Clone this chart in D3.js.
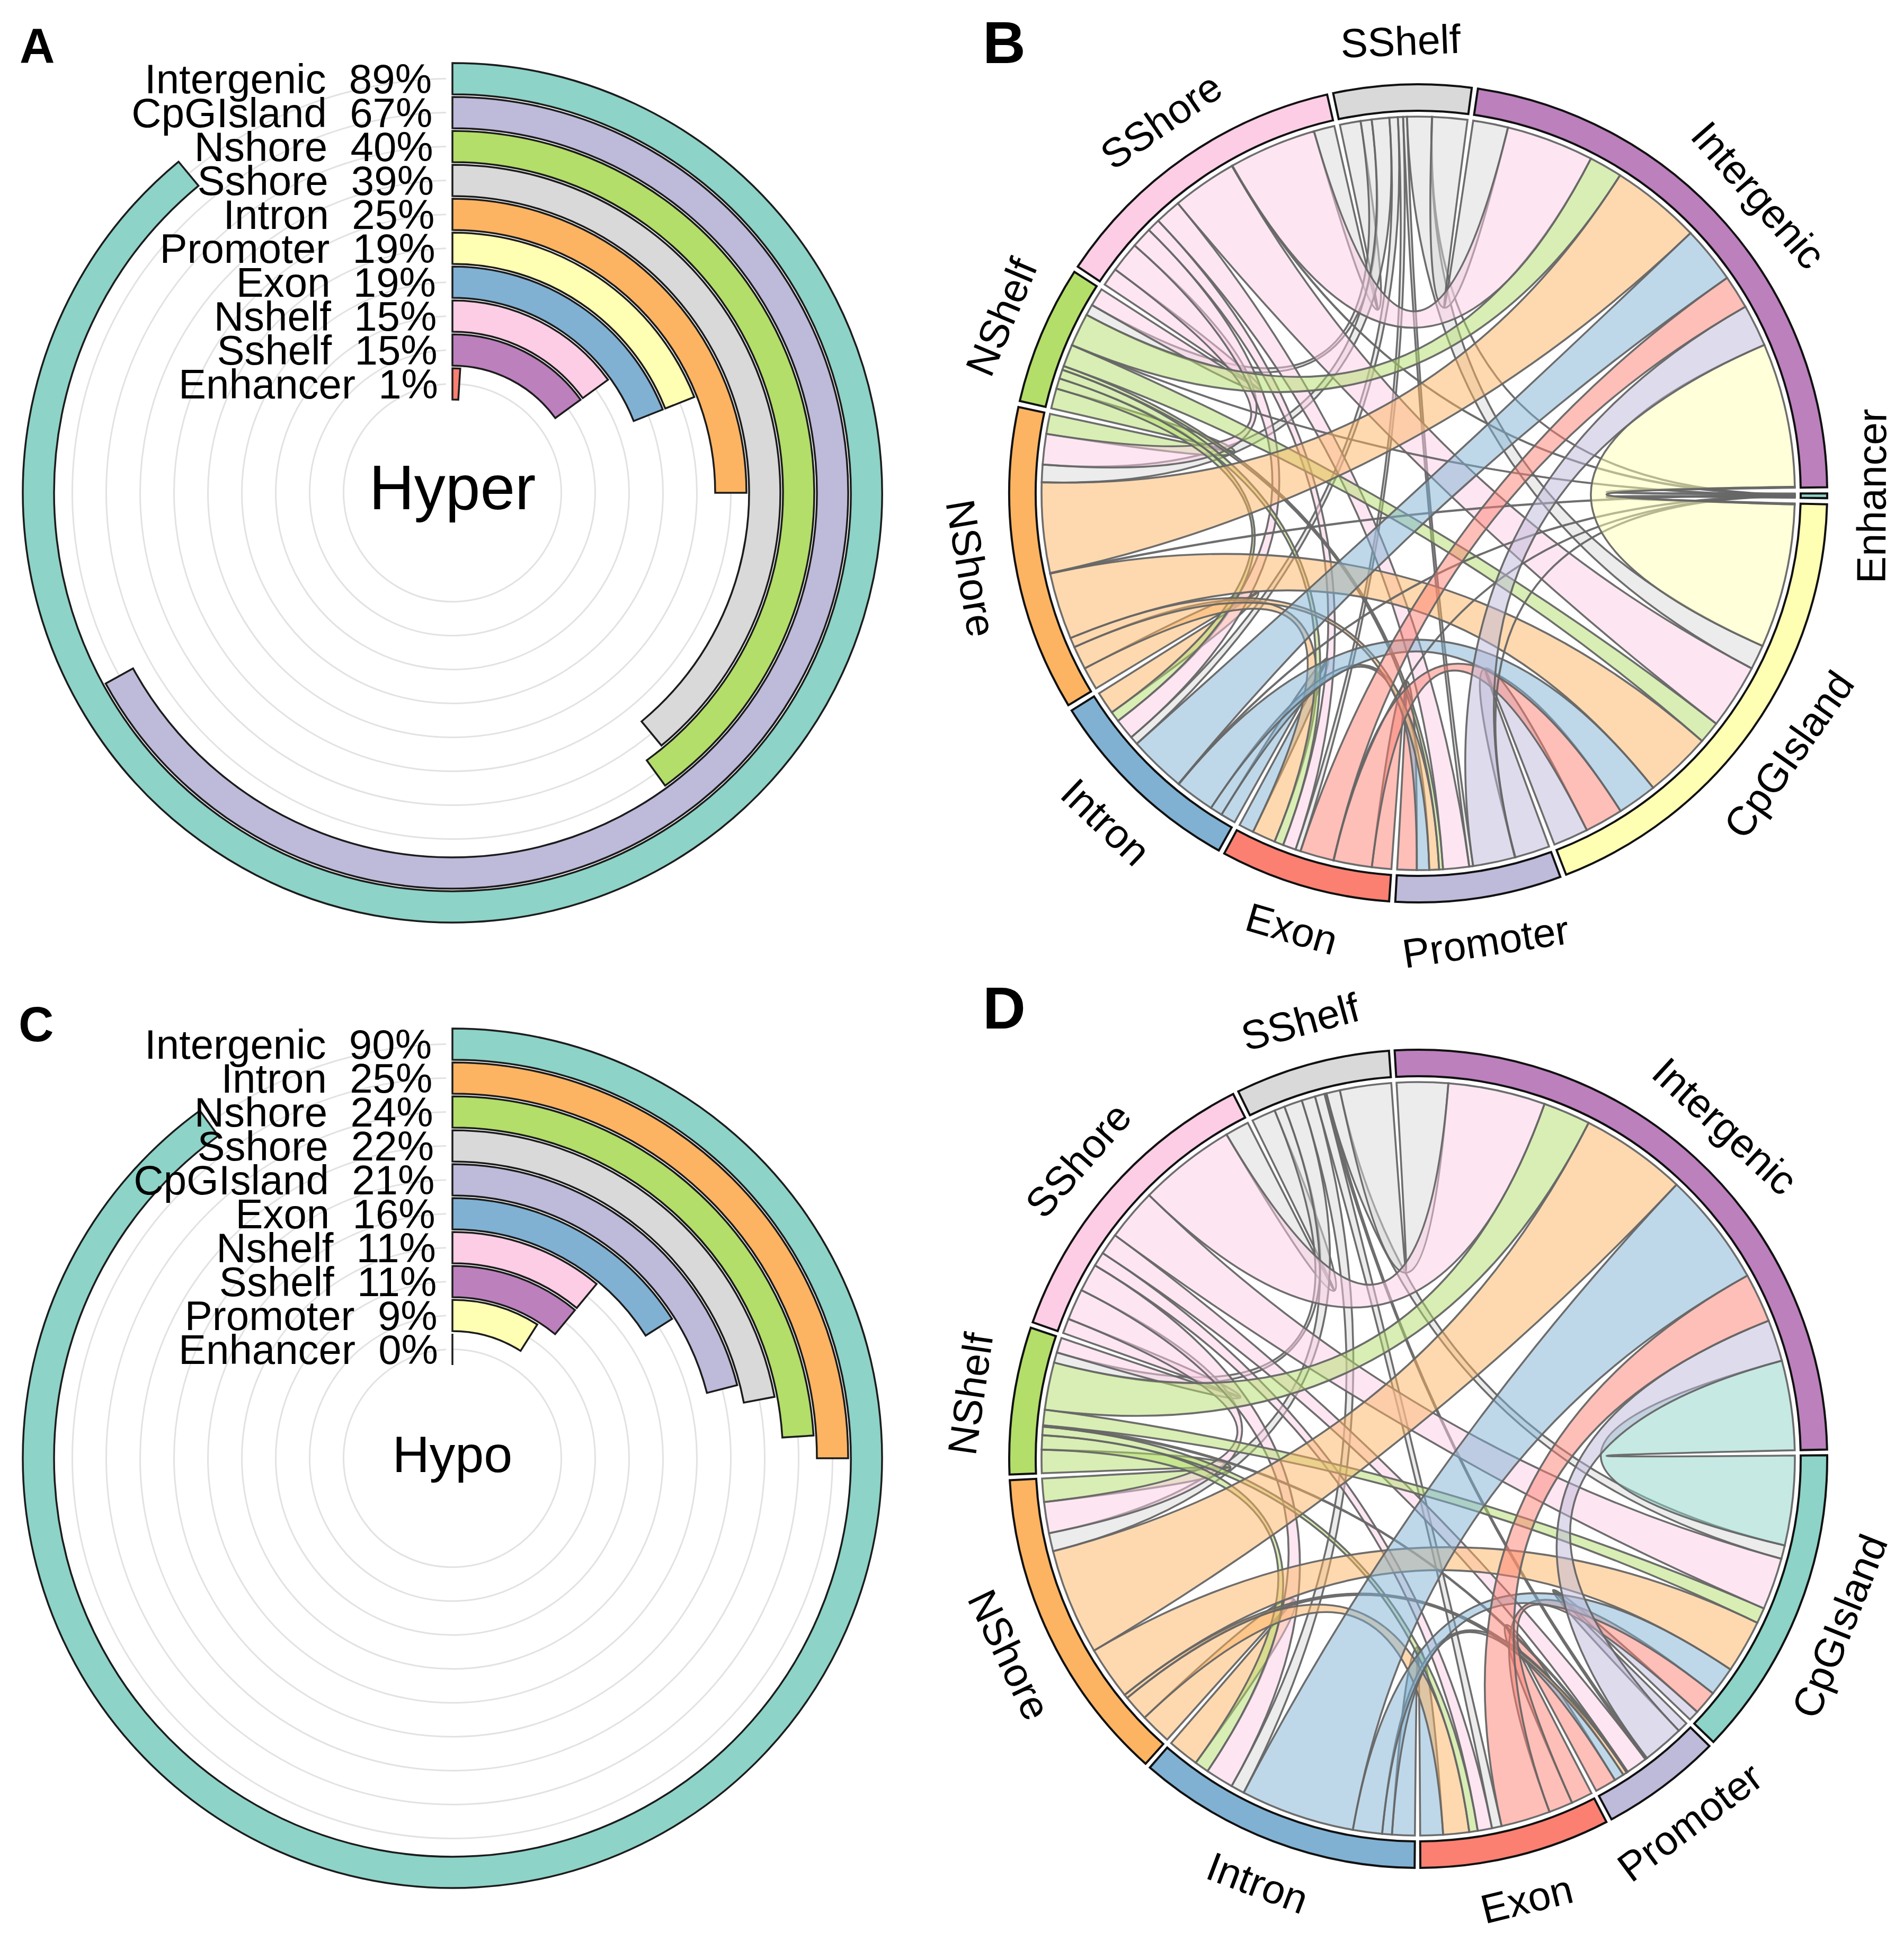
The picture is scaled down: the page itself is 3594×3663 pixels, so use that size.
<!DOCTYPE html>
<html>
<head>
<meta charset="utf-8">
<script src="https://cdn.jsdelivr.net/npm/d3@7"></script>
<style>
html,body{margin:0;padding:0;background:#fff}
svg{display:block}
text{font-family:"Liberation Sans",Arial,sans-serif;fill:#000}
</style>
</head>
<body>
<svg id="chart" width="3594" height="3663"></svg>
<script>
// ---------- radial bar panels ----------
const hyperNames  = ["Intergenic","CpGIsland","Nshore","Sshore","Intron","Promoter","Exon","Nshelf","Sshelf","Enhancer"];
const hyperValues = [89,67,40,39,25,19,19,15,15,1];
const hypoNames   = ["Intergenic","Intron","Nshore","Sshore","CpGIsland","Exon","Nshelf","Sshelf","Promoter","Enhancer"];
const hypoValues  = [90,25,24,22,21,16,11,11,9,0];
const barColors = {Intergenic:"#8DD3C7",CpGIsland:"#BEBADA",Nshore:"#B3DE69",Sshore:"#D9D9D9",Intron:"#FDB462",
                   Promoter:"#FFFFB3",Exon:"#80B1D3",Nshelf:"#FCCDE5",Sshelf:"#BC80BD",Enhancer:"#FB8072"};

// ---------- chord panels ----------
const sectorsB = ["SShelf","Intergenic","Enhancer","CpGIsland","Promoter","Exon","Intron","NShore","NShelf","SShore"];
const colorsB  = ["#D9D9D9","#BC80BD","#8DD3C7","#FFFFB3","#BEBADA","#FB8072","#80B1D3","#FDB462","#B3DE69","#FCCDE5"];
// upper triangle of the symmetric flow table, degrees of arc at each end
const flowsB = [
  [5.4,.03,3.8,.6,.8,1.3,2.7,1.7,3.2],
  [.15,22.2,6.5,5.2,8.8,13.9,5.1,13.5],
  [.15,.05,.03,.06,.08,.03,.08],
  [5.4,5.9,6.1,10.3,3.4,10],
  [3,1.9,1.5,.6,4],
  [2.3,3.6,1.4,2],
  [3.5,1.6,3.2],
  [3.1,4.7],
  [2.8]
];
const sectorsD = ["SShelf","Intergenic","CpGIsland","Promoter","Exon","Intron","NShore","NShelf","SShore"];
const colorsD  = ["#D9D9D9","#BC80BD","#8DD3C7","#BEBADA","#FB8072","#80B1D3","#FDB462","#B3DE69","#FCCDE5"];
const flowsD = [
  [7.9,2.1,.3,1.5,2.1,2.8,1.6,3.7],
  [13.8,6.4,7.6,17.6,16.4,7.3,15],
  [1.6,3.7,4.5,8.2,2.4,8],
  [3.3,1.5,.6,.2,3.3],
  [3.5,4,1.3,2.2],
  [4.8,2.2,4.3],
  [3.6,4.8],
  [2.3]
];

const svg = d3.select("#chart");

function radialBars(cx, cy, names, values, title, titleSize){
  const g = svg.append("g").attr("transform",`translate(${cx},${cy})`);
  const r = d3.scaleBand().domain(names).range([811,176]).paddingInner(5/64);
  const a = d3.scaleLinear().domain([0,100]).range([0,2*Math.PI]);
  const bw = r.bandwidth();
  const arc = d3.arc();
  // grid rings through each band's middle
  g.selectAll("path.grid").data(names).join("path").attr("class","grid")
    .attr("d",n=>{
      const rc = r(n)+bw/2;
      return d3.arc()({innerRadius:rc,outerRadius:rc,startAngle:0,endAngle:2*Math.PI-12/rc});
    })
    .attr("fill","none").attr("stroke","#e2e2e2").attr("stroke-width",3);
  // bars (r(n) is the inner edge of the band)
  g.selectAll("path.bar").data(names).join("path").attr("class","bar")
    .attr("d",(n,i)=>arc({innerRadius:r(n),outerRadius:r(n)+bw,startAngle:0,endAngle:a(values[i])}))
    .attr("fill",n=>barColors[n]).attr("stroke","#1c1c1c").attr("stroke-width",3.5).attr("stroke-linejoin","miter");
  // labels
  g.selectAll("text.lab").data(names).join("text").attr("class","lab")
    .attr("x",(n,i)=>-39+i*1.33)
    .attr("y",n=>-(r(n)+bw/2))
    .attr("dy","0.358em").attr("text-anchor","end").attr("font-size",78)
    .attr("xml:space","preserve").style("white-space","pre")
    .text((n,i)=>`${n}  ${values[i]}%`);
  g.append("text").attr("x",0).attr("y",titleSize*0.265).attr("text-anchor","middle")
    .attr("font-size",titleSize).text(title);
}

function chordPanel(cx, cy, startDeg, names, colors, flows){
  const n = names.length;
  const g = svg.append("g").attr("transform",`translate(${cx},${cy})`);
  const deg = d3.scaleLinear().domain([0,360]).range([0,2*Math.PI]);
  // symmetric matrix
  const M = d3.range(n).map(()=>d3.range(n).map(()=>0));
  flows.forEach((row,i)=>row.forEach((v,k)=>{M[i][i+1+k]=v;M[i+1+k][i]=v;}));
  const totals = M.map(row=>d3.sum(row));
  const gap = (360-d3.sum(totals))/n;
  // sector extents, and slots for each partner: nearest counter-clockwise neighbour first
  const sectors = []; const slot = {};
  let pos = startDeg;
  for(let i=0;i<n;i++){
    const s = {i,start:pos,end:pos+totals[i]};
    sectors.push(s);
    let p = pos;
    for(let k=1;k<n;k++){
      const j = (i-k+n)%n;
      slot[i+"-"+j] = [p,p+M[i][j]];
      p += M[i][j];
    }
    pos += totals[i]+gap;
  }
  // colour rank: Intergenic first, SShelf last
  const rank = i=>(i-1+n)%n;
  const links = [];
  for(let i=0;i<n;i++) for(let j=i+1;j<n;j++) if(M[i][j]>0) links.push({i,j,v:M[i][j]});
  const ribbon = d3.ribbon().radius(711);
  links.sort((a,b)=>d3.descending(Math.min(rank(a.i),rank(a.j)),Math.min(rank(b.i),rank(b.j))));
  g.selectAll("path.link").data(links).join("path").attr("class","link")
    .attr("d",l=>{
      const s = slot[l.i+"-"+l.j], t = slot[l.j+"-"+l.i];
      return ribbon({source:{startAngle:deg(s[0]),endAngle:deg(s[1])},target:{startAngle:deg(t[0]),endAngle:deg(t[1])}});
    })
    .attr("fill",l=>colors[rank(l.i)>rank(l.j)?l.i:l.j]).attr("fill-opacity",.5)
    .attr("stroke","#666").attr("stroke-width",3.6).attr("stroke-opacity",.95);
  const ring = d3.arc().innerRadius(722).outerRadius(772);
  g.selectAll("path.ring").data(sectors).join("path").attr("class","ring")
    .attr("d",s=>ring({startAngle:deg(s.start),endAngle:deg(s.end)}))
    .attr("fill",s=>colors[s.i]).attr("stroke","#111").attr("stroke-width",4);
  g.selectAll("text.sec").data(sectors).join("text").attr("class","sec")
    .attr("transform",s=>{
      const m = ((s.start+s.end)/2)%360;
      const lower = m>90 && m<270;
      const rad = deg(m);
      const x = 855*Math.sin(rad), y = -855*Math.cos(rad);
      return `translate(${x},${y}) rotate(${lower?m-180:m})`;
    })
    .attr("dy","0.358em").attr("text-anchor","middle").attr("font-size",77)
    .text(s=>names[s.i]);
}

radialBars(854,930,hyperNames,hyperValues,"Hyper",118);
radialBars(854,2752,hypoNames,hypoValues,"Hypo",97);
chordPanel(2677,931,348,sectorsB,colorsB,flowsB);
chordPanel(2677,2753,333.9,sectorsD,colorsD,flowsD);

const panelLetters = ["A","B","C","D"];
const letterX = [37,1855,35,1855], letterY = [118,119,1965,1941], letterSize = [92,112,92,112];
svg.selectAll("text.panel").data(panelLetters).join("text").attr("class","panel")
  .attr("x",(d,i)=>letterX[i]).attr("y",(d,i)=>letterY[i])
  .attr("font-size",(d,i)=>letterSize[i]).attr("font-weight","bold").text(d=>d);
</script>
</body>
</html>
